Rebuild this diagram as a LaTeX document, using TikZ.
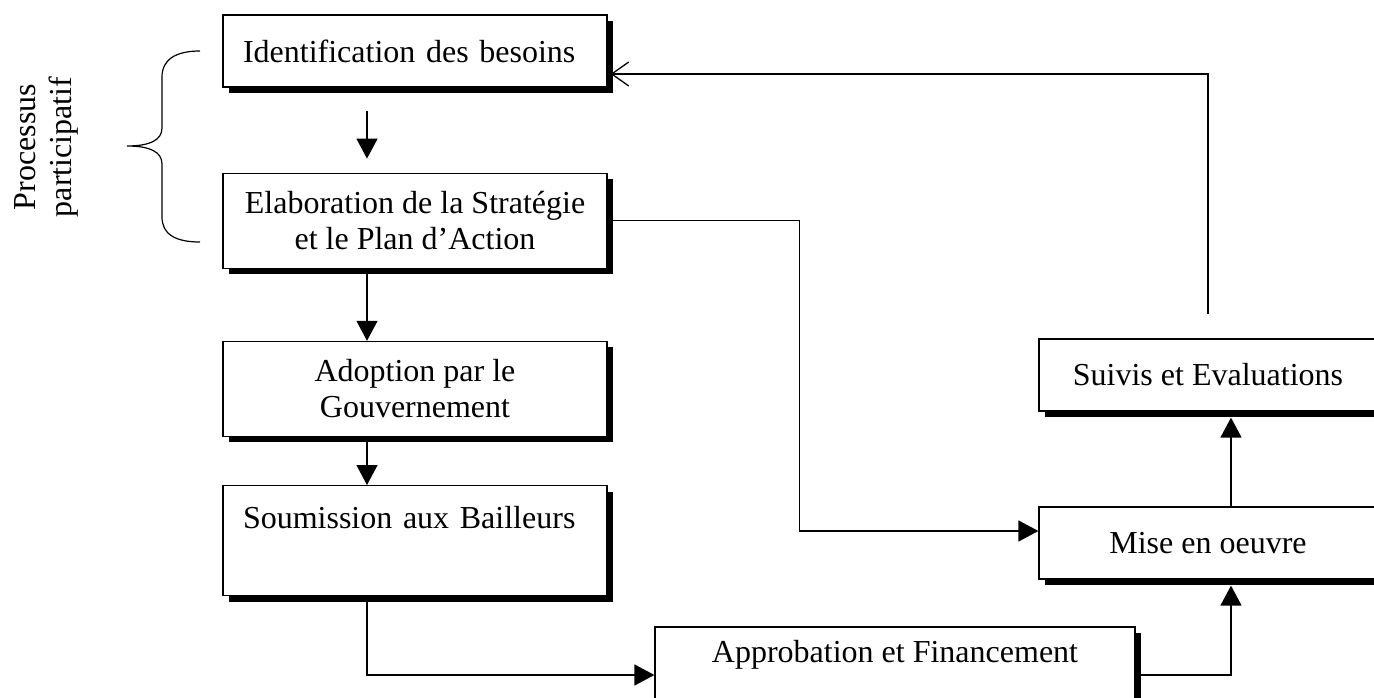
\documentclass[tikz,border=0pt]{standalone}
\usepackage{fontspec}
\setmainfont{Liberation Serif}
\usetikzlibrary{positioning, arrows.meta, shadows}

\begin{document}
\begin{tikzpicture}[
    x=1pt, y=-1pt, % one unit per pixel, y going down
    every node/.style={font=\fontsize{32}{36}\selectfont},
    box/.style={draw, fill=white, line width=1.2pt, inner sep=0pt, minimum height=72pt,
        drop shadow={shadow xshift=6pt, shadow yshift=-6pt, fill=black, opacity=1}},
    leftbox/.style={box, text width=344pt, inner xsep=20pt, align=left},
    midbox/.style={box, minimum width=384pt, align=center},
    arr/.style={-{Triangle[length=20pt,width=21pt]}, line width=1.3pt},
    barb/.style={-{Straight Barb[length=17pt,width=24pt]}, line width=1.3pt}
]
    \useasboundingbox (0,0) rectangle (1374,698);

    % Place the nodes
    \node[leftbox] (ident) at (415,51) {Identification des besoins};
    \node[midbox, minimum height=95pt, below=85pt of ident] (elab) {Elaboration de la Stratégie\\et le Plan d’Action};
    \node[midbox, minimum height=95pt, below=72pt of elab] (adopt) {Adoption par le\\Gouvernement};
    \node[leftbox, minimum height=110pt, below=48pt of adopt] (soum) {Soumission aux Bailleurs\\\strut};
    \node[box, minimum width=480pt, minimum height=96pt, align=center] (approb) at (895,675) {Approbation et Financement\\\strut};
    \node[box, minimum width=338pt, align=center] (mise) at (1208,543) {Mise en oeuvre};
    \node[box, minimum width=338pt, align=center] (suivis) at (1208,375) {Suivis et Evaluations};
    \node[rotate=90, align=center] (proc) at (46,147) {Processus\\participatif};

    % The brace
    \draw[line width=1.2pt] (200,51) .. controls (175,51) and (162,60) .. (162,77) -- (162,128)
        .. controls (162,140) and (150,146) .. (127,146) .. controls (150,146) and (162,152) .. (162,164)
        -- (162,217) .. controls (162,234) and (175,242) .. (200,242);

    % Draw the edges
    \draw[arr] ([xshift=-48pt,yshift=-23pt]ident.south) -- ([xshift=-48pt,yshift=14pt]elab.north);
    \draw[arr] ([xshift=-48pt]elab.south) -- ([xshift=-48pt]adopt.north);
    \draw[arr] ([xshift=-48pt]adopt.south) -- ([xshift=-48pt]soum.north);
    \draw[arr] ([xshift=-48pt]soum.south) |- (approb.west);
    \draw[arr] (approb.east) -| ([xshift=23pt,yshift=-6pt]mise.south);
    \draw[arr] ([xshift=23pt]mise.north) -- ([xshift=23pt,yshift=-6pt]suivis.south);
    \draw[arr] (elab.east) -- ++(192,0) |- ([yshift=12pt]mise.west);
    \draw[barb] ([yshift=24pt]suivis.north) |- ([xshift=3pt,yshift=-23pt]ident.east);
\end{tikzpicture}
\end{document}
